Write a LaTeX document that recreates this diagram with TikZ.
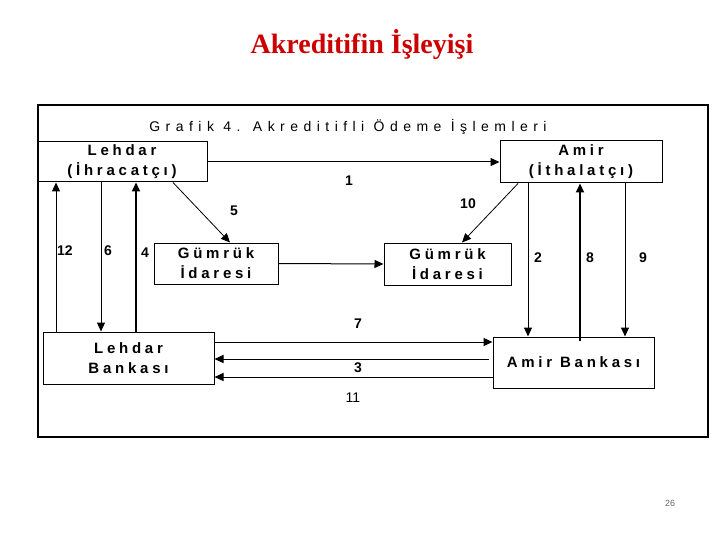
\documentclass[tikz,border=0pt]{standalone}
\usepackage{fontspec}
\setmainfont{Liberation Serif}
\newfontfamily\sansls[LetterSpace=25]{Liberation Sans}
\newfontfamily\sanstl[LetterSpace=39]{Liberation Sans}
\newfontfamily\sansn{Liberation Sans}
\usetikzlibrary{arrows.meta}
\definecolor{titlered}{RGB}{204,0,0}
\begin{document}
\begin{tikzpicture}[x=1pt,y=-1pt,
  box/.style={draw,line width=1pt,inner sep=0pt,align=center,
    font=\sansls\bfseries\fontsize{15}{20}\selectfont},
  arr/.style={line width=1pt,-{Triangle[length=9pt,width=8pt]}},
  tarr/.style={line width=2pt,-{Triangle[length=9pt,width=8pt]}},
  num/.style={font=\sansn\bfseries\fontsize{14}{15}\selectfont,inner sep=0pt}]
\useasboundingbox (0,0) rectangle (720,540);
\node[font=\bfseries\fontsize{28}{30}\selectfont,text=titlered] (ttl) at (362,44.5) {Akreditifin İşleyişi};
\draw[line width=2.5pt] (38,105) rectangle (708,437);
\node[font=\sanstl\fontsize{14}{15}\selectfont,inner sep=0pt] (gt) at (348,127) {Grafik 4. Akreditifli Ödeme İşlemleri};
% boxes
\node[box,minimum width=170pt,minimum height=40pt] (leh) at (122,162) {Lehdar\\(İhracatçı)};
\node[box,minimum width=162pt,minimum height=42pt] (amir) at (581,162) {Amir\\(İthalatçı)};
\node[box,minimum width=124pt,minimum height=41pt] (gl) at (216,263.5) {Gümrük\\İdaresi};
\node[box,minimum width=127pt,minimum height=42pt] (gr) at (447.5,264) {Gümrük\\İdaresi};
\node[box,minimum width=171pt,minimum height=52pt] (lb) at (128.5,358) {Lehdar\\Bankası};
\node[box,minimum width=161pt,minimum height=51pt] (ab) at (573.5,362.5) {Amir Bankası};
% column coordinates
\coordinate (c12) at (56,0);
\coordinate (c6) at (101,0);
\coordinate (c4) at (136,0);
\coordinate (c2) at (528,0);
\coordinate (c8) at (580,0);
\coordinate (c9) at (625,0);
\coordinate (c5s) at (173,0);
\coordinate (c5e) at (230,0);
\coordinate (c10s) at (518,0);
\coordinate (c10e) at (462,0);
\coordinate (r7) at (0,342);
\coordinate (e3) at (489,359);
\coordinate (r11) at (0,377);
% connectors
\draw[arr] (leh.east) -- (amir.west);
\draw[arr] (gl.east) -- (gr.west);
\draw[arr,line width=0.8pt] (leh.south -| c5s) -- (gl.north -| c5e);
\draw[arr,line width=0.8pt] (amir.south -| c10s) -- (gr.north -| c10e);
\draw[arr] (lb.north -| c12) -- (leh.south -| c12);
\draw[arr] (leh.south -| c6) -- (lb.north -| c6);
\draw[tarr] (lb.north -| c4) -- (leh.south -| c4);
\draw[arr] (amir.south -| c2) -- (ab.north -| c2);
\draw[tarr] ([yshift=-4pt]ab.north -| c8) -- (amir.south -| c8);
\draw[arr] (amir.south -| c9) -- (ab.north -| c9);
\draw[arr] (lb.east |- r7) -- (ab.west |- r7);
\draw[arr] (e3) -- (lb.east |- e3);
\draw[arr] (ab.west |- r11) -- (lb.east |- r11);
% labels
\node[num] (n1) at (349,181) {1};
\node[num] (n5) at (234,211) {5};
\node[num] (n10) at (468,204) {10};
\node[num] (n12) at (65,251) {12};
\node[num] (n6) at (108,251) {6};
\node[num] (n4) at (145,253) {4};
\node[num] (n2) at (538,258) {2};
\node[num] (n8) at (590,258) {8};
\node[num] (n9) at (643,258) {9};
\node[num] (n7) at (358,324) {7};
\node[num] (n3) at (358,368) {3};
\node[num,font=\sansn\fontsize{14}{15}\selectfont] (n11) at (353,398) {11};
\node[font=\sansn\fontsize{9}{10}\selectfont,text=black!60,inner sep=0pt] (pg) at (670,503) {26};
\end{tikzpicture}
\end{document}
